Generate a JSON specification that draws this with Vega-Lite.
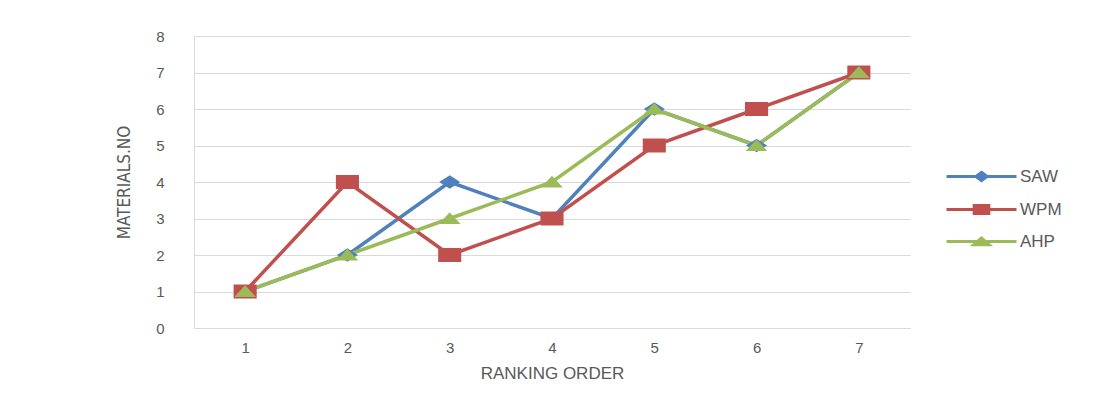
{
  "$schema": "https://vega.github.io/schema/vega-lite/v6.json",
  "width": 716,
  "height": 292,
  "autosize": "none",
  "padding": {"left": 194, "top": 36, "right": 208, "bottom": 73},
  "background": "white",
  "config": {
    "view": {"stroke": null},
    "axis": {
      "labelFont": "Liberation Sans",
      "titleFont": "Liberation Sans",
      "labelColor": "#595959",
      "titleColor": "#595959",
      "labelFontSize": 15,
      "titleFontSize": 17,
      "titleFontWeight": "normal",
      "gridColor": "#D9D9D9",
      "domainColor": "#D9D9D9",
      "ticks": false
    }
  },
  "data": {
    "values": [
      {"rank": 1, "series": "SAW", "value": 1},
      {"rank": 2, "series": "SAW", "value": 2},
      {"rank": 3, "series": "SAW", "value": 4},
      {"rank": 4, "series": "SAW", "value": 3},
      {"rank": 5, "series": "SAW", "value": 6},
      {"rank": 6, "series": "SAW", "value": 5},
      {"rank": 7, "series": "SAW", "value": 7},
      {"rank": 1, "series": "WPM", "value": 1},
      {"rank": 2, "series": "WPM", "value": 4},
      {"rank": 3, "series": "WPM", "value": 2},
      {"rank": 4, "series": "WPM", "value": 3},
      {"rank": 5, "series": "WPM", "value": 5},
      {"rank": 6, "series": "WPM", "value": 6},
      {"rank": 7, "series": "WPM", "value": 7},
      {"rank": 1, "series": "AHP", "value": 1},
      {"rank": 2, "series": "AHP", "value": 2},
      {"rank": 3, "series": "AHP", "value": 3},
      {"rank": 4, "series": "AHP", "value": 4},
      {"rank": 5, "series": "AHP", "value": 6},
      {"rank": 6, "series": "AHP", "value": 5},
      {"rank": 7, "series": "AHP", "value": 7}
    ]
  },
  "encoding": {
    "x": {
      "field": "rank",
      "type": "ordinal",
      "title": "RANKING ORDER",
      "scale": {"type": "point", "padding": 0.5},
      "axis": {"labelAngle": 0, "labelPadding": 12, "titlePadding": 10, "grid": false, "domain": true}
    },
    "y": {
      "field": "value",
      "type": "quantitative",
      "title": "MATERIALS.NO",
      "scale": {"domain": [0, 8], "nice": false},
      "axis": {
        "values": [0, 1, 2, 3, 4, 5, 6, 7, 8],
        "labelPadding": 30,
        "titlePadding": 22,
        "grid": true,
        "domain": true,
        "titleFont": "Liberation Sans Narrow, DejaVu Sans Condensed, Liberation Sans",
        "titleFontSize": 17
      }
    },
    "color": {
      "field": "series",
      "type": "nominal",
      "sort": ["SAW", "WPM", "AHP"],
      "scale": {"domain": ["SAW", "WPM", "AHP"], "range": ["#4F81BD", "#C0504D", "#9BBB59"]},
      "legend": {
        "title": null,
        "orient": "none",
        "legendX": 779,
        "legendY": 132,
        "padding": 0,
        "labelFont": "Liberation Sans",
        "labelFontSize": 17,
        "labelColor": "#595959",
        "symbolSize": 196,
        "symbolStrokeWidth": 3,
        "symbolType": "M-5,0H5M0,-0.6L0.8,0L0,0.6L-0.8,0Z",
        "labelOffset": 30,
        "rowPadding": 12,
        "encode": {
          "symbols": {
            "update": {
              "shape": {"signal": "datum.value === 'SAW' ? 'M-5,0H5M0,-0.6L0.8,0L0,0.6L-0.8,0Z' : datum.value === 'WPM' ? 'M-5,0H5M-1.05,-0.57H1.05V0.57H-1.05Z' : 'M-5,0H5M-1.1,0.45L0,-0.5L1.1,0.45Z'"},
              "fill": {"scale": "color", "field": "value"},
              "stroke": {"scale": "color", "field": "value"},
              "strokeWidth": {"value": 3},
              "fillOpacity": {"value": 1},
              "strokeOpacity": {"value": 1},
              "opacity": {"value": 1}
            }
          }
        }
      }
    }
  },
  "layer": [
    {
      "mark": {"type": "line", "strokeWidth": 3.5}
    },
    {
      "transform": [{"filter": "datum.series === 'SAW'"}],
      "mark": {"type": "point", "filled": true, "opacity": 1, "size": 196, "shape": "M0,-0.95L1.5,0L0,0.95L-1.5,0Z"}
    },
    {
      "transform": [{"filter": "datum.series === 'WPM'"}],
      "mark": {"type": "point", "filled": true, "opacity": 1, "size": 196, "shape": "M-1.65,-1H1.65V1H-1.65Z"}
    },
    {
      "transform": [{"filter": "datum.series === 'AHP'"}],
      "mark": {"type": "point", "filled": true, "opacity": 1, "size": 196, "shape": "M-1.55,0.8L0,-0.9L1.55,0.8Z"}
    }
  ]
}
